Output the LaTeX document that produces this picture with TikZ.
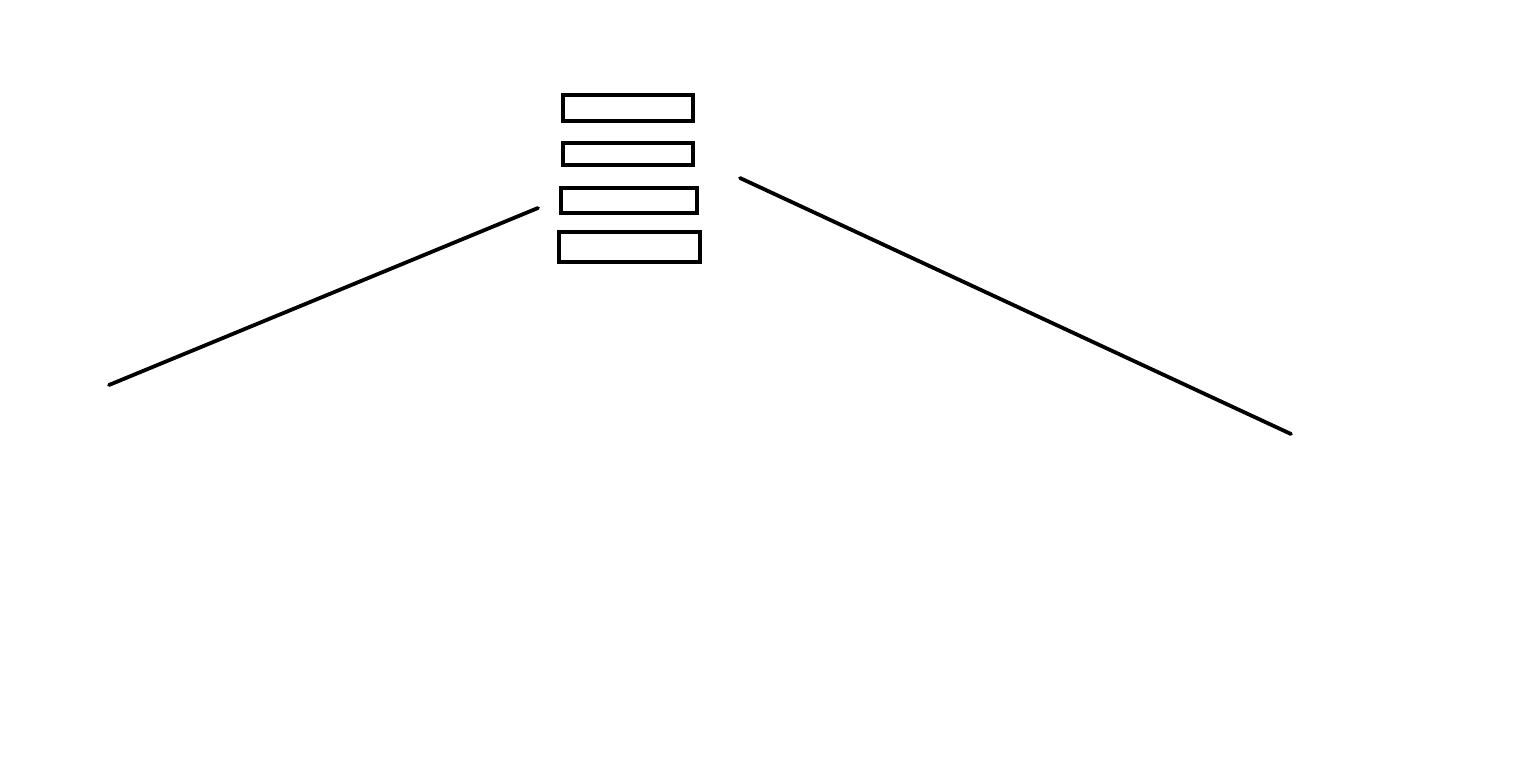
\documentclass[tikz,border=0pt]{standalone}
\begin{document}
\begin{tikzpicture}[x=1pt,y=-1pt,
  bar/.style={draw=black,line width=4pt,fill=white},
  stroke/.style={draw=black,line width=3.8pt,line cap=round}]
\useasboundingbox[fill=white] (0,0) rectangle (1538,765);
\draw[bar] (563,95) rectangle (693,121);
\draw[bar] (563,143) rectangle (693,165);
\draw[bar] (561,188) rectangle (697,213);
\draw[bar] (559,232) rectangle (700,262);
\coordinate (l1) at (109,385);
\coordinate (l2) at (538,208);
\coordinate (r1) at (740,178);
\coordinate (r2) at (1291,434);
\draw[stroke] (l1) -- (l2);
\draw[stroke] (r1) -- (r2);
\end{tikzpicture}
\end{document}
